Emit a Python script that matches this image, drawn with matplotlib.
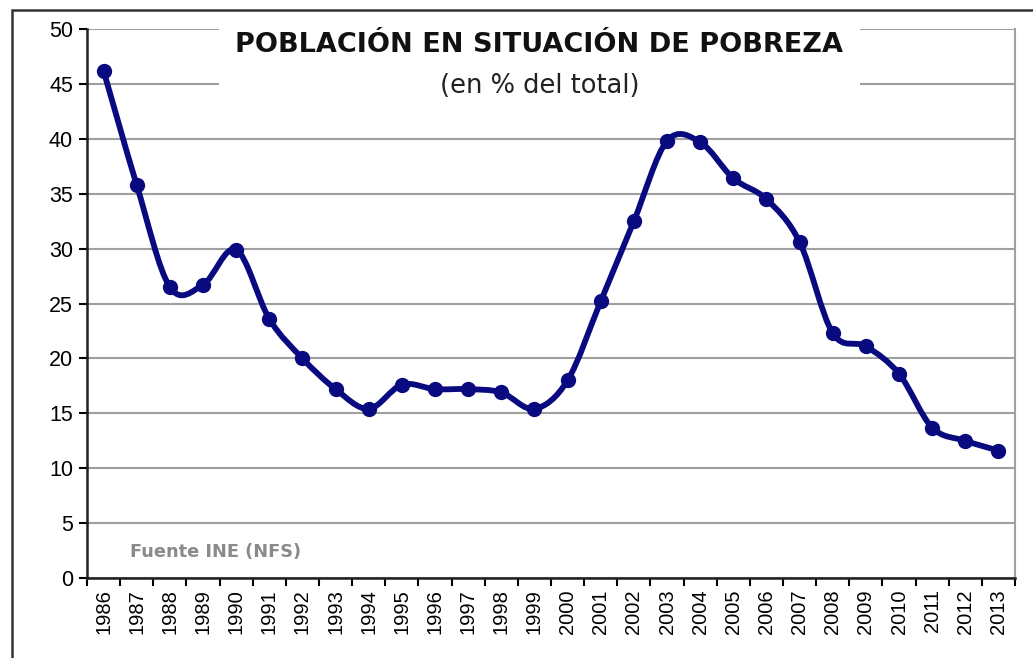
import numpy as np
import matplotlib.pyplot as plt
from matplotlib.path import Path
from matplotlib.patches import PathPatch, Rectangle

years = [str(y) for y in range(1986, 2014)]
pobreza = [46.2, 35.8, 26.5, 26.7, 29.9, 23.6, 20.0, 17.2, 15.4, 17.6,
           17.2, 17.2, 16.9, 15.4, 18.0, 25.2, 32.5, 39.8, 39.7, 36.4,
           34.5, 30.6, 22.3, 21.1, 18.6, 13.7, 12.5, 11.6]
yticks = [0, 5, 10, 15, 20, 25, 30, 35, 40, 45, 50]

navy = '#0a0a80'

fig = plt.figure(figsize=(10.33, 6.58), dpi=100)
ax = fig.add_axes([0.0842, 0.1216, 0.8984, 0.8343])

x = np.arange(len(years))
y = np.array(pobreza)

# smoothed line like Excel (bezier through the points)
pts = np.column_stack([x, y]).astype(float)
verts = [pts[0]]
codes = [Path.MOVETO]
for i in range(len(pts) - 1):
    p0 = pts[i - 1] if i > 0 else pts[i]
    p1 = pts[i]
    p2 = pts[i + 1]
    p3 = pts[i + 2] if i + 2 < len(pts) else pts[i + 1]
    c1 = p1 + (p2 - p0) / 6
    c2 = p2 - (p3 - p1) / 6
    verts += [c1, c2, p2]
    codes += [Path.CURVE4] * 3
ax.add_patch(PathPatch(Path(verts, codes), fill=False, edgecolor=navy,
                       lw=4.2, zorder=3, capstyle='round', joinstyle='round'))
ax.plot(x, y, linestyle='none', marker='o', ms=10, color=navy, zorder=4)

ax.set_xlim(-0.5, len(years) - 0.5)
ax.set_ylim(0, 50)
ax.set_yticks(yticks)
ax.set_yticklabels([str(v) for v in yticks], fontsize=15.5, family='Liberation Sans')
ax.set_xticks(x)
ax.set_xticklabels(years, rotation=90, fontsize=14.5, family='Liberation Sans')
ax.set_xticks(np.arange(-0.5, len(years)), minor=True)
ax.tick_params(axis='x', which='major', length=0, pad=8)
ax.tick_params(axis='x', which='minor', length=6, width=1.5, direction='out')
ax.tick_params(axis='y', length=6, width=1.5, direction='out', pad=4)

ax.grid(axis='y', color='#a0a0a0', lw=1.5)
ax.set_axisbelow(True)
for side in ['left', 'bottom']:
    ax.spines[side].set_color('#202020')
    ax.spines[side].set_linewidth(1.8)
ax.spines['right'].set_color('#a0a0a0')
ax.spines['right'].set_linewidth(1.5)
ax.spines['top'].set_visible(False)

# white box behind the title that hides the top grid lines
ax.add_patch(Rectangle((219 / 1033, 1 - 102 / 658), (860 - 219) / 1033, 85 / 658,
                       transform=fig.transFigure, facecolor='white',
                       edgecolor='none', zorder=1.5, clip_on=False))

fig.text(539 / 1033, 1 - 45 / 658, 'POBLACIÓN EN SITUACIÓN DE POBREZA',
         ha='center', va='center', fontsize=19.5, fontweight='bold',
         family='DejaVu Sans', color='#111111')
fig.text(540 / 1033, 1 - 86 / 658, '(en % del total)', ha='center',
         va='center', fontsize=18.5, family='DejaVu Sans', color='#222222')
fig.text(130 / 1033, 1 - 552 / 658, 'Fuente INE (NFS)', ha='left',
         va='center', fontsize=12.8, fontweight='bold', family='DejaVu Sans',
         color='#8a8a8a')

# outer chart frame
fig.patches.append(Rectangle((12 / 1033, -0.05), 1.1, 1 - 10 / 658 + 0.05,
                             transform=fig.transFigure, fill=False,
                             edgecolor='#333333', lw=1.8))

fig.savefig('out.png', dpi=100)
